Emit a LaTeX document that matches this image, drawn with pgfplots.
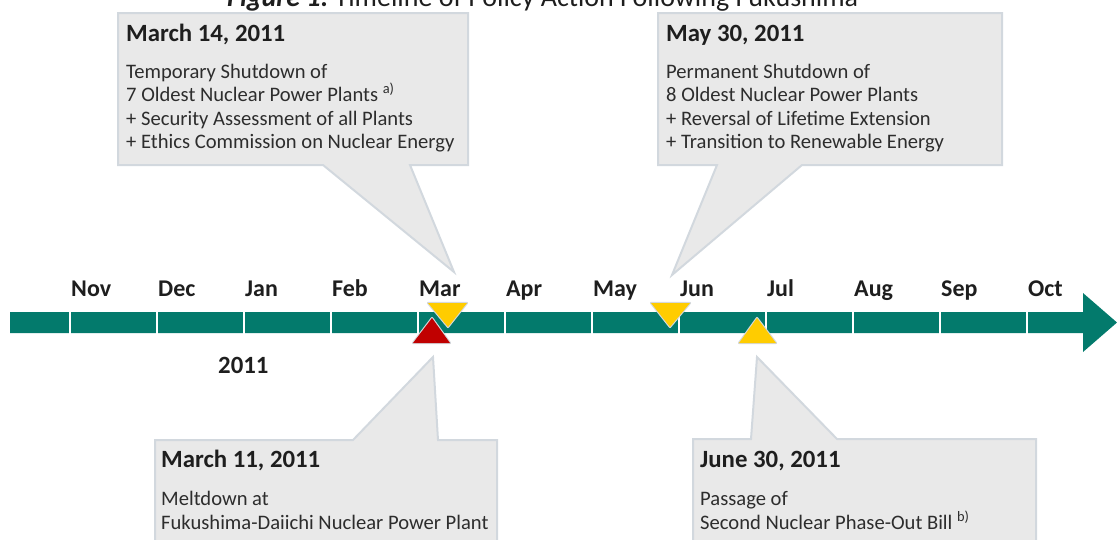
\documentclass[border=0pt]{standalone}
\usepackage{pgfplots}
\pgfplotsset{compat=1.18}
\usepackage{fontspec}
\setmainfont{Carlito}
\definecolor{barteal}{RGB}{3,122,108}
\definecolor{evred}{RGB}{192,0,0}
\definecolor{evyel}{RGB}{255,204,0}
\definecolor{boxfill}{RGB}{233,233,233}
\definecolor{boxedge}{RGB}{210,216,222}
\definecolor{shgrey}{RGB}{212,216,220}
\definecolor{bodytxt}{RGB}{45,45,45}
\definecolor{headtxt}{RGB}{30,30,30}
\newcommand{\bodyfont}{\fontsize{20.6}{24}\selectfont\color{bodytxt}}
\newcommand{\headfont}{\fontsize{24.8}{28}\selectfont\bfseries\color{headtxt}}
\newcommand{\monthfont}{\fontsize{24}{26}\selectfont\bfseries\color{headtxt}}
\begin{document}
\begin{tikzpicture}
\begin{axis}[
  x=1pt, y=1pt,
  xmin=0, xmax=1117, ymin=0, ymax=539,
  y dir=reverse,
  hide axis, clip=false, scale only axis,
]
% title (cut at top, as in the reference)
\node[anchor=base west, inner sep=0pt, font=\fontsize{28}{32}\selectfont, text=headtxt]
  at (axis cs:227,6) {{\bfseries\itshape\underline{Figure 1:}} Timeline of Policy Action Following Fukushima};

% timeline arrow
\addplot[fill=barteal, draw=none] coordinates {
  (10,312) (1083,312) (1083,293) (1117,322.5) (1083,352) (1083,333) (10,333)} --cycle;
% month separators
\foreach \m in {70,157,244,331,418,505,592,679,766,853,940,1027}{
  \edef\tmp{\noexpand\draw[white, line width=1.6pt] (axis cs:\m,310) -- (axis cs:\m,335);}\tmp
}
% month labels
\foreach \m/\lab in {70/Nov,157/Dec,244/Jan,331/Feb,418/Mar,505/Apr,592/May,679/Jun,766/Jul,853/Aug,940/Sep,1027/Oct}{
  \edef\tmp{\noexpand\node[anchor=base west, inner sep=0pt, font=\noexpand\monthfont] at (axis cs:\m+1,296) {\lab};}\tmp
}
\node[anchor=base west, inner sep=0pt, font=\fontsize{24.8}{28}\selectfont\bfseries, text=headtxt] at (axis cs:218,373) {2011};

% event markers
\addplot[fill=evyel, draw=shgrey, line width=2.2pt, line join=round] coordinates {(428,303) (448,327) (467,303)} --cycle;
\addplot[fill=evyel, draw=shgrey, line width=2.2pt, line join=round] coordinates {(651,303) (670,327) (690,303)} --cycle;
\addplot[fill=evred, draw=shgrey, line width=2.2pt, line join=round] coordinates {(413,343) (432,318) (450,343)} --cycle;
\addplot[fill=evyel, draw=shgrey, line width=2.2pt, line join=round] coordinates {(739,343) (757,318) (776,343)} --cycle;
\addplot[fill=evyel, draw=none] coordinates {(428,303) (448,327) (467,303)} --cycle;
\addplot[fill=evyel, draw=none] coordinates {(651,303) (670,327) (690,303)} --cycle;
\addplot[fill=evred, draw=none] coordinates {(413,343) (432,318) (450,343)} --cycle;
\addplot[fill=evyel, draw=none] coordinates {(739,343) (757,318) (776,343)} --cycle;

% callout boxes
\addplot[fill=boxfill, draw=boxedge, line width=2pt] coordinates {
  (118,13) (468,13) (468,165) (410,165) (454,272) (323,165) (118,165)} --cycle;
\addplot[fill=boxfill, draw=boxedge, line width=2pt] coordinates {
  (658,13) (1002,13) (1002,165) (802,165) (672,275) (717,165) (658,165)} --cycle;
\addplot[fill=boxfill, draw=boxedge, line width=2pt] coordinates {
  (155,545) (155,440) (353,440) (433,357) (438,440) (497,440) (497,545)} --cycle;
\addplot[fill=boxfill, draw=boxedge, line width=2pt] coordinates {
  (693,545) (693,439) (751,439) (757,357) (837,439) (1036,439) (1036,545)} --cycle;

% box 1 text
\node[anchor=base west, inner sep=0pt, font=\headfont] at (axis cs:126,41) {March 14, 2011};
\node[anchor=base west, inner sep=0pt, font=\bodyfont] at (axis cs:126,78) {Temporary Shutdown of};
\node[anchor=base west, inner sep=0pt, font=\bodyfont] at (axis cs:126,101.5) {7 Oldest Nuclear Power Plants \textsuperscript{a)}};
\node[anchor=base west, inner sep=0pt, font=\bodyfont] at (axis cs:126,125) {+ Security Assessment of all Plants};
\node[anchor=base west, inner sep=0pt, font=\bodyfont] at (axis cs:126,148.5) {+ Ethics Commission on Nuclear Energy};
% box 2 text
\node[anchor=base west, inner sep=0pt, font=\headfont] at (axis cs:666,41) {May 30, 2011};
\node[anchor=base west, inner sep=0pt, font=\bodyfont] at (axis cs:666,78) {Permanent Shutdown of};
\node[anchor=base west, inner sep=0pt, font=\bodyfont] at (axis cs:666,101.5) {8 Oldest Nuclear Power Plants};
\node[anchor=base west, inner sep=0pt, font=\bodyfont] at (axis cs:666,125) {+ Reversal of Lifetime Extension};
\node[anchor=base west, inner sep=0pt, font=\bodyfont] at (axis cs:666,148.5) {+ Transition to Renewable Energy};
% box 3 text
\node[anchor=base west, inner sep=0pt, font=\headfont] at (axis cs:161,467) {March 11, 2011};
\node[anchor=base west, inner sep=0pt, font=\bodyfont] at (axis cs:161,505) {Meltdown at};
\node[anchor=base west, inner sep=0pt, font=\bodyfont] at (axis cs:161,529) {Fukushima-Daiichi Nuclear Power Plant};
% box 4 text
\node[anchor=base west, inner sep=0pt, font=\headfont] at (axis cs:700,467) {June 30, 2011};
\node[anchor=base west, inner sep=0pt, font=\bodyfont] at (axis cs:700,505) {Passage of};
\node[anchor=base west, inner sep=0pt, font=\bodyfont] at (axis cs:700,529) {Second Nuclear Phase-Out Bill \textsuperscript{b)}};
\end{axis}
\pgfresetboundingbox
\path (current axis.south west) rectangle (current axis.north east);
\end{tikzpicture}
\end{document}
